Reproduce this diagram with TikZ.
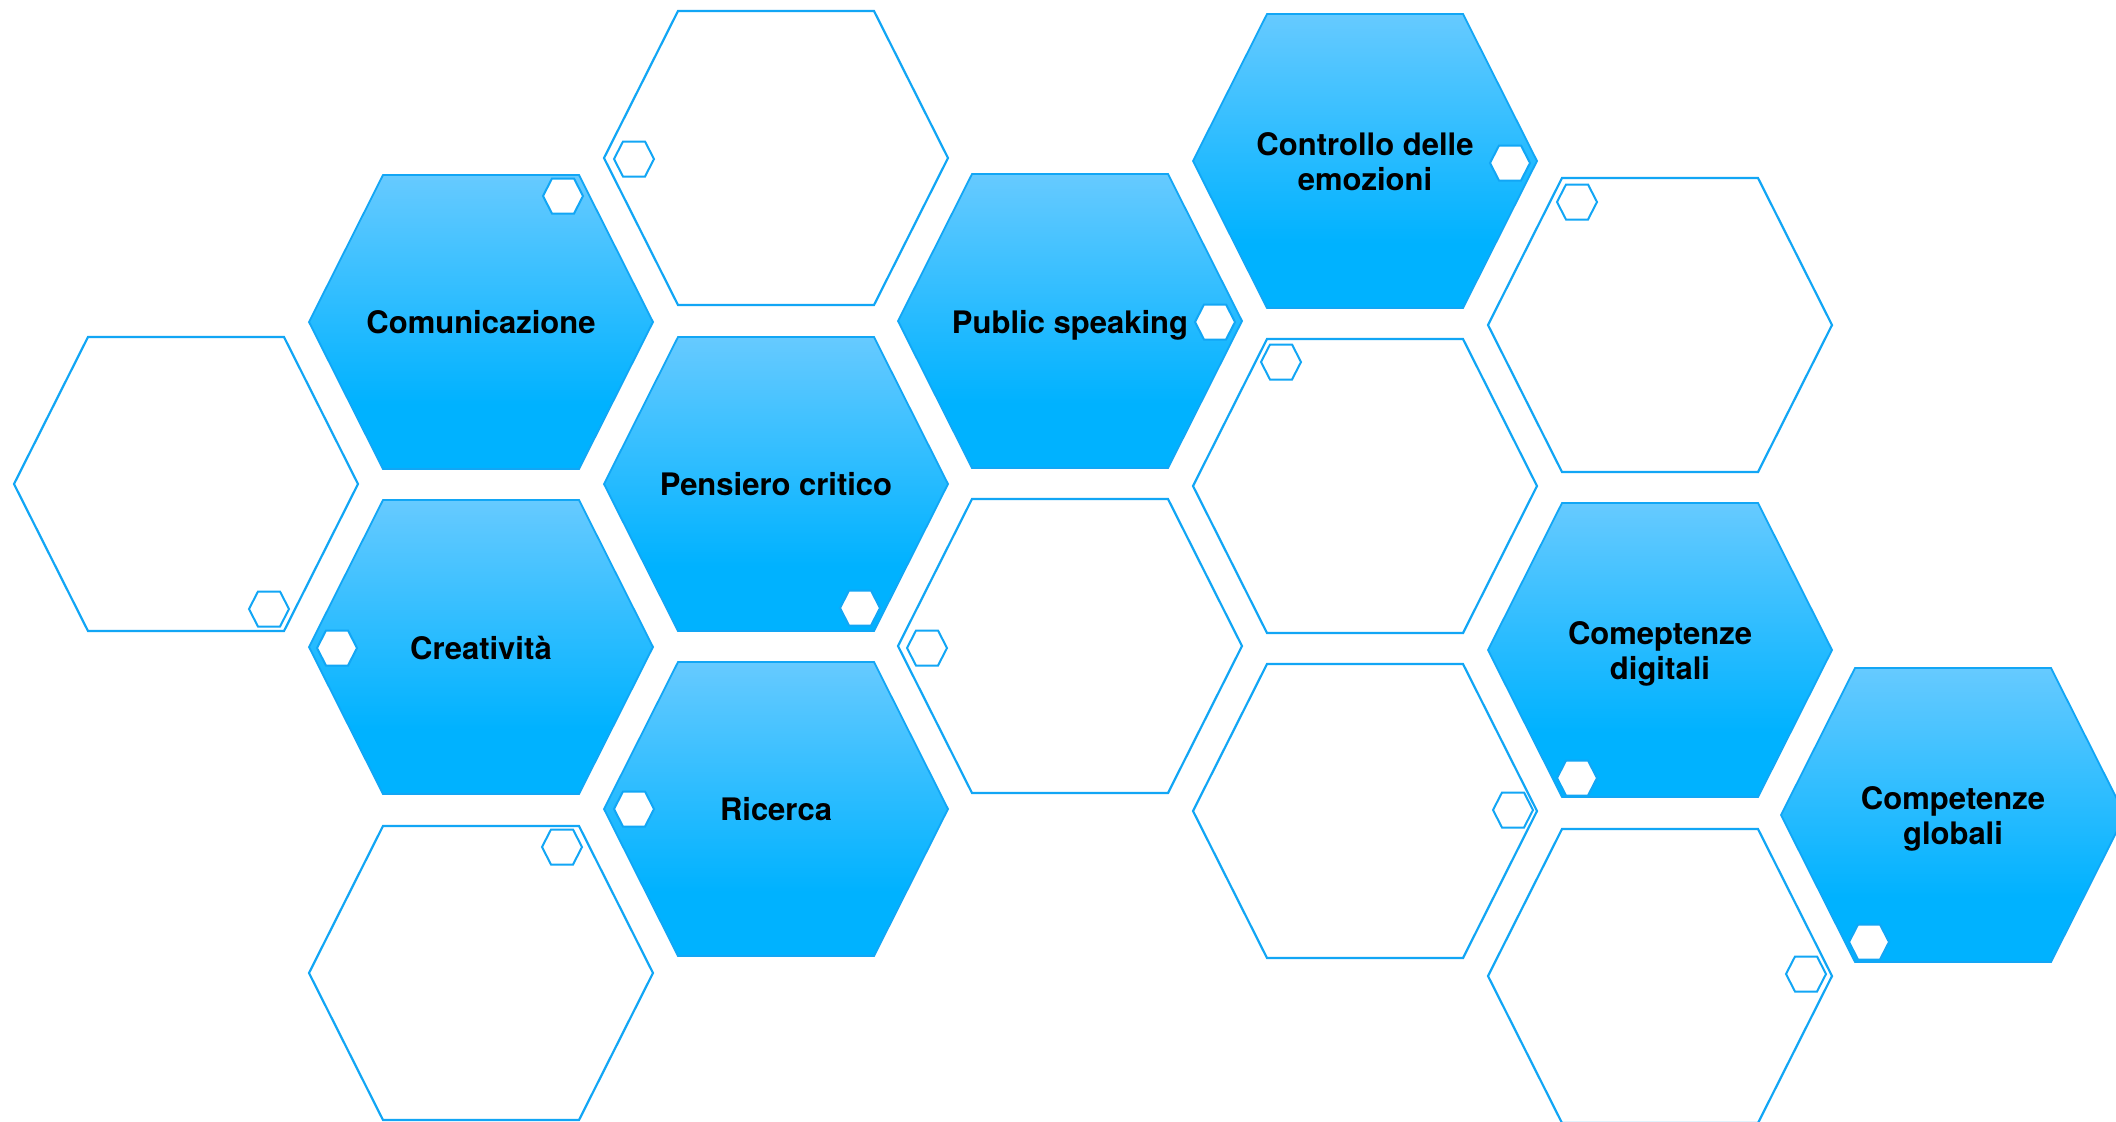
\documentclass[tikz,border=0pt]{standalone}
\usepackage{fontspec}
\setmainfont{TeX Gyre Heros}
\definecolor{hexline}{RGB}{18,166,245}
\definecolor{hextop}{RGB}{102,202,255}
\definecolor{hexbot}{RGB}{0,178,255}
\pgfdeclareverticalshading{hexshade}{100bp}{color(0bp)=(hexbot); color(36bp)=(hexbot); color(75bp)=(hextop); color(100bp)=(hextop)}
\tikzset{
  pics/filledhex/.style={code={
    \shadedraw[shading=hexshade, draw=hexline, line width=0.9pt]
      (-172,0) -- (-98,-147) -- (98,-147) -- (172,0) -- (98,147) -- (-98,147) -- cycle;}},
  pics/openhex/.style={code={
    \draw[hexline, line width=1.1pt, fill=white]
      (-172,0) -- (-98,-147) -- (98,-147) -- (172,0) -- (98,147) -- (-98,147) -- cycle;}},
  pics/minihex/.style={code={
    \draw[hexline, line width=1pt, fill=white]
      (-20,0) -- (-11,-17.5) -- (11,-17.5) -- (20,0) -- (11,17.5) -- (-11,17.5) -- cycle;}},
  lbl/.style={font=\bfseries\fontsize{15.5}{17.5}\selectfont, align=center, text=black,
    inner sep=0pt, text depth=0pt}
}
\begin{document}
\begin{tikzpicture}[x=0.5pt,y=-0.5pt]
\clip (0,0) rectangle (2116,1121);
\fill[white] (0,0) rectangle (2116,1121);
% open hexagons
\path (186,484) pic {openhex};
\path (776,158) pic {openhex};
\path (481,973) pic {openhex};
\path (1070,646) pic {openhex};
\path (1365,486) pic {openhex};
\path (1365,811) pic {openhex};
\path (1660,325) pic {openhex};
\path (1660,976) pic {openhex};
% filled hexagons
\path (481,322) pic {filledhex};
\path (776,484) pic {filledhex};
\path (481,647) pic {filledhex};
\path (776,809) pic {filledhex};
\path (1070,321) pic {filledhex};
\path (1365,161) pic {filledhex};
\path (1660,650) pic {filledhex};
\path (1953,815) pic {filledhex};
% mini hexagons
\path (269,609) pic {minihex};
\path (634,159) pic {minihex};
\path (562,847) pic {minihex};
\path (927,648) pic {minihex};
\path (1281,362) pic {minihex};
\path (1513,810) pic {minihex};
\path (1577,202) pic {minihex};
\path (1806,974) pic {minihex};
\path (563,196) pic {minihex};
\path (860,608) pic {minihex};
\path (337,648) pic {minihex};
\path (634,809) pic {minihex};
\path (1215,322) pic {minihex};
\path (1510,163) pic {minihex};
\path (1577,778) pic {minihex};
\path (1869,942) pic {minihex};
% labels
\node[lbl] (comm) at (481,322) {Comunicazione};
\node[lbl] (pens) at (776,484) {Pensiero critico};
\node[lbl, text height=11.1pt] (crea) at (481,648) {Creatività};
\node[lbl] (ric) at (776,809) {Ricerca};
\node[lbl] (pub) at (1070,322) {Public speaking};
\node[lbl] (ctrl) at (1365,162) {Controllo delle\\emozioni};
\node[lbl] (dig) at (1660,650) {Comeptenze\\digitali};
\node[lbl] (glob) at (1953,815) {Competenze\\globali};
\end{tikzpicture}
\end{document}
